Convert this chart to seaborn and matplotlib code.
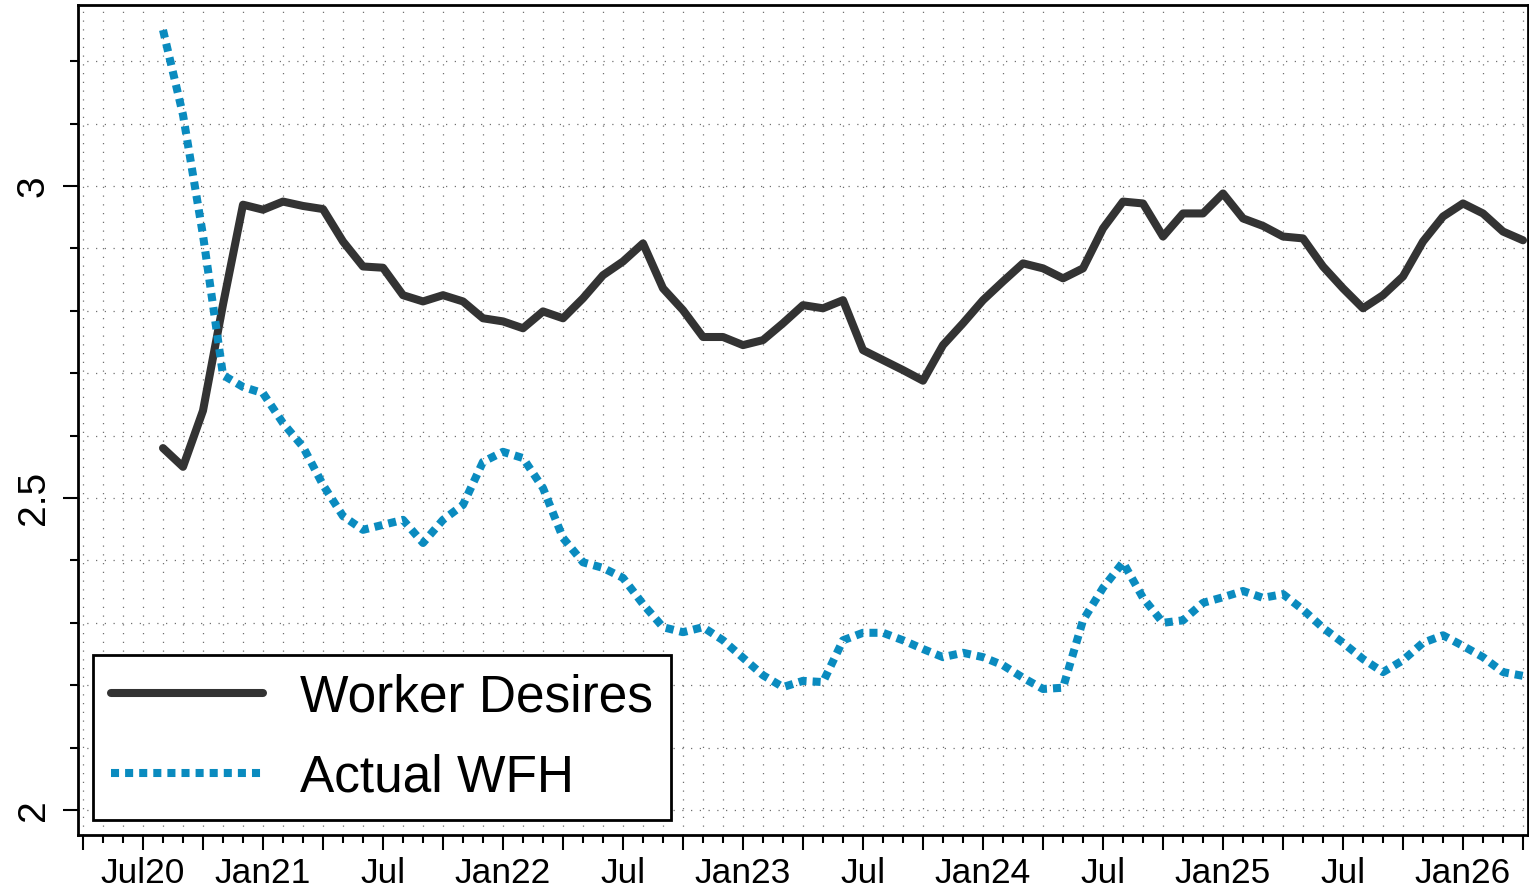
import numpy as np
import pandas as pd
import matplotlib
matplotlib.use('Agg')
import matplotlib.pyplot as plt
from matplotlib.ticker import FixedLocator, FixedFormatter, MultipleLocator
from matplotlib.lines import Line2D
import seaborn as sns

# monthly survey averages, Aug 2020 - Apr 2026
months = pd.period_range('2020-08', '2026-04', freq='M')
worker_desires = [
    2.58, 2.55, 2.64, 2.81, 2.970, 2.962, 2.975, 2.968, 2.963, 2.911,
    2.871, 2.869, 2.825, 2.815, 2.825, 2.815, 2.788, 2.783, 2.772, 2.799,
    2.788, 2.820, 2.857, 2.879, 2.908, 2.836, 2.801, 2.758, 2.758, 2.745,
    2.753, 2.780, 2.809, 2.804, 2.817, 2.737, 2.721, 2.705, 2.688, 2.745,
    2.780, 2.817, 2.847, 2.876, 2.868, 2.852, 2.868, 2.932, 2.975, 2.972,
    2.919, 2.956, 2.956, 2.988, 2.948, 2.936, 2.919, 2.916, 2.871, 2.836,
    2.804, 2.825, 2.855, 2.911, 2.951, 2.972, 2.956, 2.927, 2.913,
]
actual_wfh = [
    3.25, 3.114, 2.921, 2.697, 2.678, 2.668, 2.620, 2.582, 2.521, 2.471,
    2.449, 2.457, 2.465, 2.428, 2.465, 2.489, 2.558, 2.574, 2.564, 2.516,
    2.436, 2.397, 2.388, 2.372, 2.330, 2.293, 2.285, 2.293, 2.272, 2.244,
    2.216, 2.197, 2.207, 2.205, 2.272, 2.284, 2.284, 2.272, 2.258, 2.245,
    2.252, 2.245, 2.232, 2.212, 2.194, 2.196, 2.304, 2.356, 2.397, 2.340,
    2.300, 2.304, 2.332, 2.341, 2.351, 2.340, 2.346, 2.321, 2.292, 2.268,
    2.242, 2.221, 2.240, 2.268, 2.280, 2.263, 2.245, 2.221, 2.215,
]
series_names = ['Worker Desires', 'Actual WFH']

label_months = ['2020-07', '2021-01', '2021-07', '2022-01', '2022-07', '2023-01',
                '2023-07', '2024-01', '2024-07', '2025-01', '2025-07', '2026-01']
label_text = ['Jul20', 'Jan21', 'Jul', 'Jan22', 'Jul', 'Jan23',
              'Jul', 'Jan24', 'Jul', 'Jan25', 'Jul', 'Jan26']
y_labels = ['2', '2.5', '3']

DARK = '#333333'
BLUE = '#0a8bbf'

sns.set_theme(style='white')
plt.rcParams['font.family'] = ['Liberation Sans', 'DejaVu Sans']
plt.rcParams.update({'text.color': 'black', 'xtick.color': 'black',
                     'ytick.color': 'black', 'axes.labelcolor': 'black'})

t = np.array([p.ordinal for p in months])
df = pd.DataFrame({'t': t, series_names[0]: worker_desires, series_names[1]: actual_wfh})

fig = plt.figure(figsize=(15.29, 8.93), dpi=100)
ax = fig.add_axes([78 / 1529, 58 / 893, 1450 / 1529, 830 / 893])

sns.lineplot(data=df, x='t', y=series_names[0], ax=ax, color=DARK, lw=5.8,
             solid_joinstyle='round', zorder=3)
sns.lineplot(data=df, x='t', y=series_names[1], ax=ax, color=BLUE, lw=5.8,
             linestyle=(0, (1, 0.75)), zorder=4)

# x axis: monthly ticks, quarterly long ticks, semiannual labels
all_months = pd.period_range('2020-04', '2026-04', freq='M')
month_pos = [p.ordinal for p in all_months]
quarter_pos = [p.ordinal for p in all_months if p.month in (1, 4, 7, 10)]
lab_map = {pd.Period(m, 'M').ordinal: s for m, s in zip(label_months, label_text)}
ax.xaxis.set_major_locator(FixedLocator(quarter_pos))
ax.xaxis.set_major_formatter(FixedFormatter([lab_map.get(q, '') for q in quarter_pos]))
ax.xaxis.set_minor_locator(FixedLocator(month_pos))
first = pd.Period('2020-08', 'M').ordinal
ax.set_xlim(first - 4.25, first + 68.25)

ax.set_ylim(1.96, 3.29)
ax.yaxis.set_major_locator(FixedLocator([2.0, 2.5, 3.0]))
ax.yaxis.set_major_formatter(FixedFormatter(y_labels))
ax.yaxis.set_minor_locator(MultipleLocator(0.1))

ax.grid(which='both', axis='both', color='#707070', linestyle=(0, (1, 6)), lw=0.9)
ax.set_axisbelow(True)

ax.tick_params(axis='x', which='major', length=11, width=1.5, direction='out',
               labelsize=25.5, pad=5, bottom=True)
ax.tick_params(axis='x', which='minor', length=5.5, width=1.5, direction='out', bottom=True)
ax.tick_params(axis='y', which='major', length=11, width=1.5, direction='out',
               labelsize=28, pad=8, left=True)
ax.tick_params(axis='y', which='minor', length=5.5, width=1.5, direction='out', left=True)
for lab in ax.get_yticklabels():
    lab.set_rotation(90)
    lab.set_va('center')

for s in ax.spines.values():
    s.set_color('black')
    s.set_linewidth(2)

ax.set_xlabel('')
ax.set_ylabel('')

handles = [
    Line2D([], [], color=DARK, lw=5.8),
    Line2D([], [], color=BLUE, lw=5.8, linestyle=(0, (1, 0.75))),
]
leg = ax.legend(handles, series_names, loc='lower left',
                bbox_to_anchor=(15 / 1450, 15 / 830), borderaxespad=0,
                fontsize=37, frameon=True, fancybox=False, framealpha=1,
                edgecolor='black', handlelength=2.95, handletextpad=0.72,
                labelspacing=0.6, borderpad=0.35)
leg.get_frame().set_linewidth(2)
for txt in leg.get_texts():
    txt.set_color('black')

fig.savefig('out.png', dpi=100)
